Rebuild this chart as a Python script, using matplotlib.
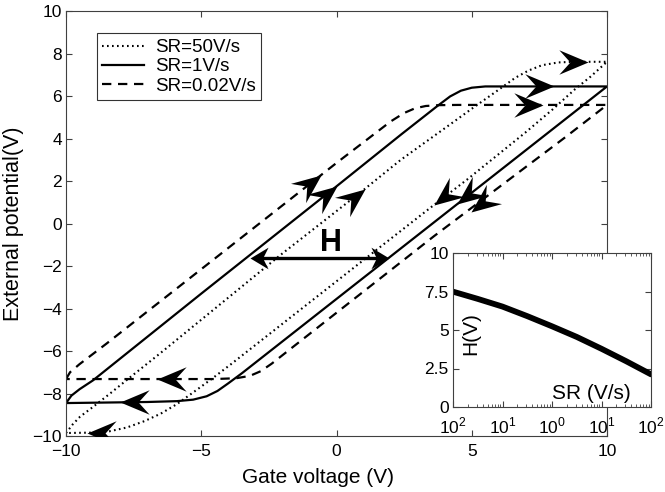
import numpy as np
import matplotlib
matplotlib.use("Agg")
import matplotlib.pyplot as plt
from matplotlib.path import Path
from matplotlib.markers import MarkerStyle
from matplotlib.transforms import Affine2D
from matplotlib.ticker import FixedLocator, NullFormatter, LogLocator

plt.rcParams['font.family'] = ['Liberation Sans', 'DejaVu Sans']
plt.rcParams['mathtext.fontset'] = 'custom'
plt.rcParams['mathtext.rm'] = 'Liberation Sans'

# ---------------- data ----------------
legend_labels = ["SR=50V/s", "SR=1V/s", "SR=0.02V/s"]

# SR = 50 V/s (dotted)
dot_up_x = [-10, -9.75, -9.48, -8.99, -8.37, -7.75, -6.52, -2.07, 1.0, 2.37, 4.0, 5.0, 6.0, 6.6, 7.1, 7.6, 8.2, 8.8, 10]
dot_up_y = [-9.86, -9.45, -9.09, -8.62, -8.0, -7.36, -6.11, -1.48, 1.58, 2.99, 4.48, 5.4, 6.3, 6.85, 7.2, 7.45, 7.58, 7.61, 7.61]
dot_down_x = [10, 9.8, 9.4, 8.8, 8.0, 7.0, 6.0, 4.84, 3.6, 1.63, -2.0, -3.9, -4.6, -5.3, -5.9, -6.5, -7.1, -7.75, -8.4, -9.0, -10]
dot_down_y = [7.61, 7.38, 6.92, 6.3, 5.38, 4.3, 3.27, 2.08, 0.87, -1.09, -4.72, -6.62, -7.3, -7.95, -8.5, -8.95, -9.3, -9.6, -9.78, -9.84, -9.86]

# SR = 1 V/s (solid)
sol_up_x = [-10, -9.8, -9.5, -9.0, -5.0, 0.0, 2.4, 3.2, 3.7, 4.2, 4.6, 5.0, 5.5, 10]
sol_up_y = [-8.45, -8.1, -7.8, -7.38, -3.3, 1.75, 4.2, 5.0, 5.5, 5.98, 6.25, 6.39, 6.45, 6.45]
sol_down_x = [10, 5, 0, -3.5, -4.0, -4.4, -4.8, -5.3, -5.9, -7, -10]
sol_down_y = [6.45, 1.45, -3.55, -7.05, -7.52, -7.88, -8.13, -8.29, -8.36, -8.4, -8.45]

# SR = 0.02 V/s (dashed)
das_up_x = [-10, -9.85, -9.5, -8.5, -4.0, 0.0, 2.0, 2.5, 2.9, 3.3, 3.8, 4.5, 10]
das_up_y = [-7.32, -7.0, -6.62, -5.65, -1.15, 2.85, 4.8, 5.2, 5.42, 5.53, 5.57, 5.58, 5.58]
das_down_x = [10, 8.5, 3.6, 0.0, -1.0, -1.5, -2.0, -2.4, -2.8, -3.2, -3.7, -4.5, -10]
das_down_y = [5.58, 4.1, -0.6, -4.2, -5.2, -5.7, -6.2, -6.6, -6.95, -7.17, -7.28, -7.32, -7.32]

# direction arrows: tip x, tip y, direction (dx, dy) in data units
sol_arrow_x = [0.03, 8.05, 4.47, -8.0]
sol_arrow_y = [1.78, 6.45, 0.92, -8.42]
das_arrow_x = [-0.59, 7.62, 4.96, -6.64]
das_arrow_y = [2.26, 5.58, 0.55, -7.32]
dot_arrow_x = [1.07, 9.28, 3.6, -9.23]
dot_arrow_y = [1.63, 7.61, 0.87, -9.85]
arrow_dx = [1, 1, -1, -1]
arrow_dy = [1, 0, -1, 0]

# hysteresis width marker
h_left, h_right, h_y = -3.19, 1.94, -1.64
h_label_x, h_label_y = -0.22, -0.9

# inset: H versus sweep rate
sr_vals = [1e-2, 10**-1.5, 1e-1, 10**-0.5, 1e0, 10**0.5, 1e1, 10**1.5, 1e2]
h_vals = [7.49, 7.02, 6.52, 5.9, 5.24, 4.55, 3.78, 2.97, 2.12]
inset_xticks = [1e-2, 1e-1, 1e0, 1e1, 1e2]
inset_xticklabels = [r'$10^{2}$', r'$10^{1}$', r'$10^{0}$', r'$10^{1}$', r'$10^{2}$']
inset_yticks = [0, 2.5, 5, 7.5, 10]
inset_yticklabels = ['0', '2.5', '5', '7.5', '10']

main_xticks = [-10, -5, 0, 5, 10]
main_yticks = [-10, -8, -6, -4, -2, 0, 2, 4, 6, 8, 10]

# ---------------- figure ----------------
W, H = 665, 492
fig = plt.figure(figsize=(W / 100, H / 100), dpi=100)
ax = fig.add_axes([66 / W, 1 - 436 / H, (607 - 66) / W, (436 - 11) / H])
ax.set_xlim(-10, 10)
ax.set_ylim(-10, 10)

spine_col = '#404040'
for s in ax.spines.values():
    s.set_color(spine_col)
    s.set_linewidth(0.8)
ax.set_xticks(main_xticks)
ax.set_yticks(main_yticks)
ax.tick_params(direction='in', top=True, right=True, length=4, width=0.8,
               color=spine_col, labelsize=12.5)
ax.tick_params(axis='x', pad=6)
ax.tick_params(axis='y', pad=3)

lw = 1.6
ax.plot(dot_up_x + dot_down_x, dot_up_y + dot_down_y, color='black', lw=1.5,
        linestyle=(0, (0.8, 1.6)), label=legend_labels[0])
ax.plot(sol_up_x + sol_down_x, sol_up_y + sol_down_y, color='black', lw=lw,
        linestyle='-', label=legend_labels[1])
ax.plot(das_up_x + das_down_x, das_up_y + das_down_y, color='black', lw=lw,
        linestyle=(0, (4.2, 3.0)), label=legend_labels[2])

# arrowhead marker (tip at origin, pointing +x)
head_path = Path([(0, 0), (-1, 0.42), (-0.62, 0), (-1, -0.42), (0, 0)],
                 [Path.MOVETO, Path.LINETO, Path.LINETO, Path.LINETO, Path.CLOSEPOLY])
h_head_path = Path([(0, 0), (-1, 0.6), (-0.7, 0), (-1, -0.6), (0, 0)],
                   [Path.MOVETO, Path.LINETO, Path.LINETO, Path.LINETO, Path.CLOSEPOLY])


def draw_head(x, y, dx, dy, path, ms):
    p0 = ax.transData.transform((x, y))
    p1 = ax.transData.transform((x + dx, y + dy))
    ang = np.degrees(np.arctan2(p1[1] - p0[1], p1[0] - p0[0]))
    m = MarkerStyle(path, transform=Affine2D().rotate_deg(ang))
    ax.plot([x], [y], marker=m, markersize=ms, color='black',
            markeredgewidth=0, linestyle='none', zorder=5)


for xs, ys in [(sol_arrow_x, sol_arrow_y), (das_arrow_x, das_arrow_y), (dot_arrow_x, dot_arrow_y)]:
    for x, y, dx, dy in zip(xs, ys, arrow_dx, arrow_dy):
        draw_head(x, y, dx, dy, head_path, 42)

# H arrow
ax.plot([h_left + 0.4, h_right - 0.4], [h_y, h_y], color='black', lw=2.4, solid_capstyle='butt')
draw_head(h_left, h_y, -1, 0, h_head_path, 26)
draw_head(h_right, h_y, 1, 0, h_head_path, 26)
ax.text(h_label_x, h_label_y, 'H', ha='center', va='center',
        fontsize=22, fontweight='bold')

ax.set_xlabel('Gate voltage (V)', fontsize=15)
ax.xaxis.set_label_coords((318 - 66) / 541, -0.075)
ax.set_ylabel('External potential(V)', fontsize=15.5, labelpad=6)

leg = ax.legend(loc='upper left', bbox_to_anchor=(0.0567, 0.9475), borderaxespad=0,
                fontsize=13.5, frameon=True, fancybox=False, edgecolor='black',
                handlelength=2.2, handletextpad=0.6, labelspacing=0.12,
                borderpad=0.3)
leg.get_frame().set_linewidth(0.8)

# ---------------- inset ----------------
axi = fig.add_axes([453 / W, 1 - 407 / H, (651 - 453) / W, (407 - 253) / H])
axi.set_facecolor('white')
axi.set_xscale('log')
axi.set_xlim(1e-2, 1e2)
axi.set_ylim(0, 10)
axi.plot(sr_vals, h_vals, color='black', lw=4.2, solid_capstyle='round')
axi.xaxis.set_major_locator(FixedLocator(inset_xticks))
axi.set_xticklabels(inset_xticklabels)
axi.xaxis.set_minor_locator(LogLocator(base=10, subs=np.arange(2, 10) * 1.0, numticks=20))
axi.xaxis.set_minor_formatter(NullFormatter())
axi.set_yticks(inset_yticks)
axi.set_yticklabels(inset_yticklabels)
for s in axi.spines.values():
    s.set_color(spine_col)
    s.set_linewidth(0.8)
axi.tick_params(which='both', direction='in', top=True, right=True, color=spine_col,
                labelsize=12.5)
axi.tick_params(axis='x', pad=6.5)
axi.tick_params(axis='y', pad=3)
axi.tick_params(which='major', length=4, width=0.8)
axi.tick_params(which='minor', length=2, width=0.6)
axi.text(0.70, 0.09, 'SR (V/s)', transform=axi.transAxes, ha='center', va='center', fontsize=15)
axi.text(0.09, 0.48, 'H(V)', transform=axi.transAxes, ha='center', va='center',
         rotation=90, fontsize=15)

fig.savefig('out.png', dpi=100)
